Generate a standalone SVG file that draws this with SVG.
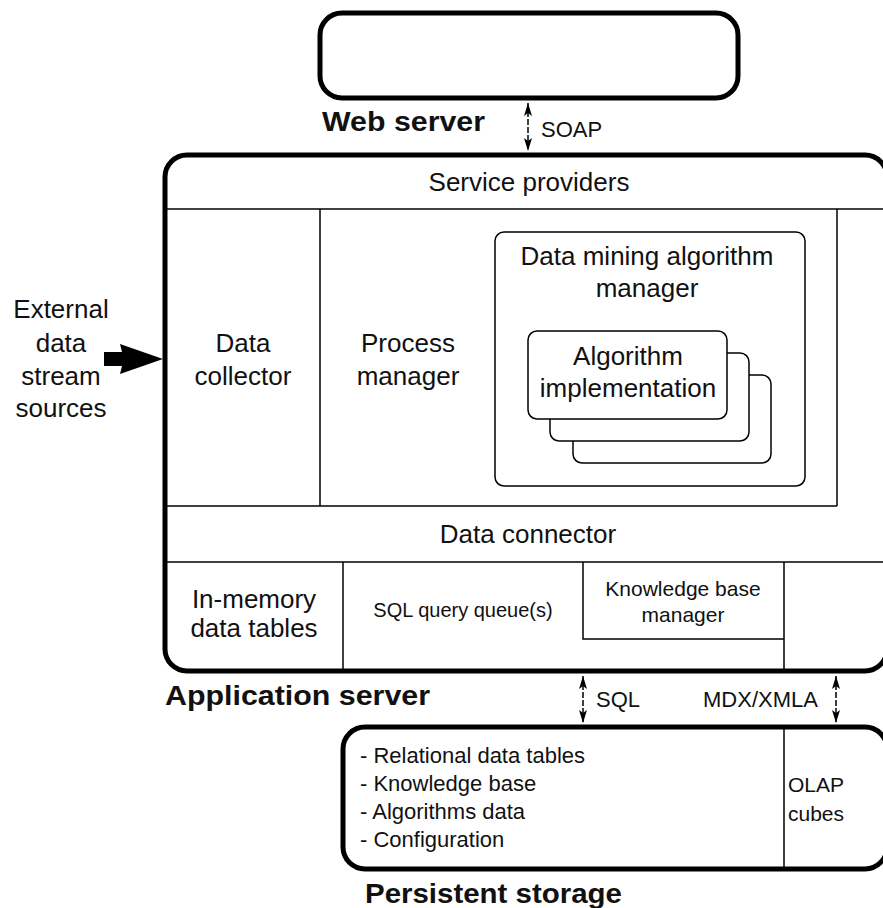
<svg xmlns="http://www.w3.org/2000/svg" width="883" height="908" viewBox="0 0 883 908">
<style>
  text { font-family: "Liberation Sans", Arial, sans-serif; fill: #111; }
  .lbl { font-size: 26px; text-anchor: middle; }
  .mid { font-size: 21px; text-anchor: middle; }
  .sm { font-size: 20px; }
  .list { font-size: 22px; }
  .proto { font-size: 22px; }
  .title { font-size: 28px; font-weight: bold; }
  .thick { fill: none; stroke: #000; stroke-width: 5; }
  .thin { fill: none; stroke: #000; stroke-width: 1.5; }
  .card { fill: #fff; stroke: #000; stroke-width: 1.5; }
  .dbl { fill: none; stroke: #000; stroke-width: 1.5; stroke-dasharray: 6 2; marker-start: url(#ah); marker-end: url(#ah); }
</style>
<defs>
  <marker id="ah" viewBox="0 0 13 8" refX="13" refY="4" markerWidth="13" markerHeight="8" markerUnits="userSpaceOnUse" orient="auto-start-reverse">
    <path d="M0,0 L13,4 L0,8 L3,4 z" fill="#000"/>
  </marker>
</defs>
<rect width="883" height="908" fill="#fff"/>

<g id="web-server">
  <rect class="thick" x="320" y="13" width="418" height="85" rx="22"/>
  <text class="title" x="322" y="131" textLength="163" lengthAdjust="spacingAndGlyphs">Web server</text>
</g>

<g id="application-server">
  <rect class="thick" x="165" y="155" width="722" height="516" rx="22"/>
  <text class="title" x="165" y="705" textLength="265" lengthAdjust="spacingAndGlyphs">Application server</text>
</g>

<g id="service-providers">
  <line class="thin" x1="165" y1="209" x2="883" y2="209"/>
  <text class="lbl" x="529" y="191">Service providers</text>
</g>

<g id="data-collector">
  <line class="thin" x1="320" y1="209" x2="320" y2="506"/>
  <text class="lbl" x="243" y="352">Data</text>
  <text class="lbl" x="243" y="385">collector</text>
</g>

<g id="process-manager">
  <line class="thin" x1="837" y1="209" x2="837" y2="506"/>
  <line class="thin" x1="165" y1="506" x2="837" y2="506"/>
  <text class="lbl" x="408" y="352">Process</text>
  <text class="lbl" x="408" y="385">manager</text>
</g>

<g id="data-mining-algorithm-manager">
  <rect class="thin" x="495" y="232" width="310" height="254" rx="9"/>
  <text class="lbl" x="647" y="265">Data mining algorithm</text>
  <text class="lbl" x="647" y="297">manager</text>
</g>

<g id="algorithm-implementation">
  <rect class="card" x="573" y="375" width="198" height="88" rx="9"/>
  <rect class="card" x="550" y="353" width="199" height="88" rx="9"/>
  <rect class="card" x="528" y="331" width="199" height="88" rx="9"/>
  <text class="lbl" x="628" y="365">Algorithm</text>
  <text class="lbl" x="628" y="397">implementation</text>
</g>

<g id="data-connector">
  <line class="thin" x1="165" y1="562" x2="883" y2="562"/>
  <text class="lbl" x="528" y="543">Data connector</text>
</g>

<g id="in-memory-data-tables">
  <line class="thin" x1="343" y1="562" x2="343" y2="671"/>
  <text class="lbl" x="254" y="608">In-memory</text>
  <text class="lbl" x="254" y="637">data tables</text>
</g>

<g id="sql-query-queues">
  <text class="sm" x="463" y="617" text-anchor="middle">SQL query queue(s)</text>
</g>

<g id="knowledge-base-manager">
  <polyline class="thin" points="583,562 583,639 784,639"/>
  <line class="thin" x1="784" y1="562" x2="784" y2="671"/>
  <text class="mid" x="683" y="596">Knowledge base</text>
  <text class="mid" x="683" y="622">manager</text>
</g>

<g id="persistent-storage">
  <rect class="thick" x="343" y="727" width="544" height="142" rx="22"/>
  <line class="thin" x1="784" y1="727" x2="784" y2="869"/>
  <text class="list" x="360" y="763">- Relational data tables</text>
  <text class="list" x="360" y="791">- Knowledge base</text>
  <text class="list" x="360" y="819">- Algorithms data</text>
  <text class="list" x="360" y="847">- Configuration</text>
  <text class="mid" x="816" y="792">OLAP</text>
  <text class="mid" x="816" y="821">cubes</text>
  <text class="title" x="365" y="903" textLength="257" lengthAdjust="spacingAndGlyphs">Persistent storage</text>
</g>

<g id="external-sources">
  <text class="lbl" x="61" y="318">External</text>
  <text class="lbl" x="61" y="352">data</text>
  <text class="lbl" x="61" y="385">stream</text>
  <text class="lbl" x="61" y="417">sources</text>
</g>

<g id="connectors">
  <polygon points="104,352 122,352 120,344 163,359 120,374 122,366 104,366" fill="#000"/>
  <line class="dbl" x1="528" y1="103" x2="528" y2="151"/>
  <text class="proto" x="541" y="137">SOAP</text>
  <line class="dbl" x1="583" y1="676" x2="583" y2="723"/>
  <text class="proto" x="596" y="707">SQL</text>
  <line class="dbl" x1="836" y1="676" x2="836" y2="723"/>
  <text class="proto" x="703" y="707">MDX/XMLA</text>
</g>
</svg>
